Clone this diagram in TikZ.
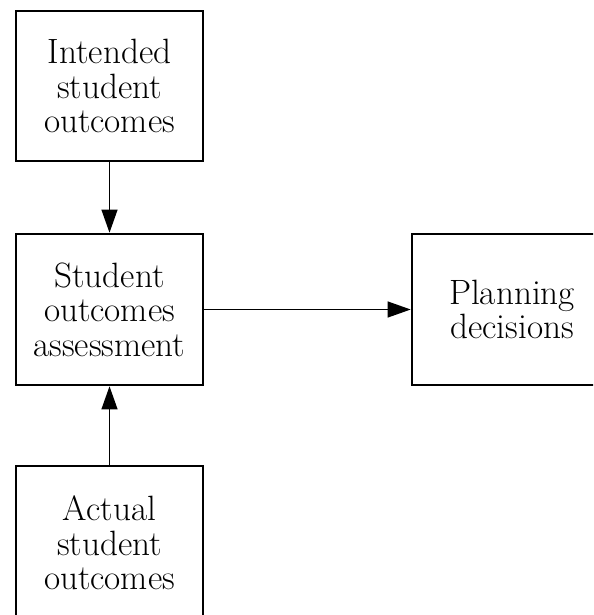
\documentclass[tikz,border=0pt]{standalone}
\usetikzlibrary{arrows.meta}

\tikzset{
  block/.style={draw=black, line width=1.8pt, align=center, inner sep=0pt,
    font=\fontsize{25}{24.5}\selectfont},
  feed/.style={draw=black, line width=1.1pt, -{Triangle[length=0.58cm,width=0.4cm]}}
}

\begin{document}
\begin{tikzpicture}[x=0.025cm,y=-0.025cm]
\useasboundingbox (0,0) rectangle (593,615);
\clip (0,0) rectangle (593,615);

\node[block,minimum width=4.675cm,minimum height=3.75cm] (intended) at (109.5,86) {Intended\\student\\outcomes};
\node[block,minimum width=4.675cm,minimum height=3.775cm] (assess) at (109.5,309.5) {Student\\outcomes\\assessment};
\node[block,minimum width=4.675cm,minimum height=3.85cm] (actual) at (109.5,543) {Actual\\student\\outcomes};
\node[block,minimum width=5cm,minimum height=3.775cm] (planning) at (512,309.5) {Planning\\decisions};

\draw[feed] (intended) -- (assess);
\draw[feed] (actual) -- (assess);
\draw[feed] (assess) -- (planning);

\end{tikzpicture}
\end{document}
